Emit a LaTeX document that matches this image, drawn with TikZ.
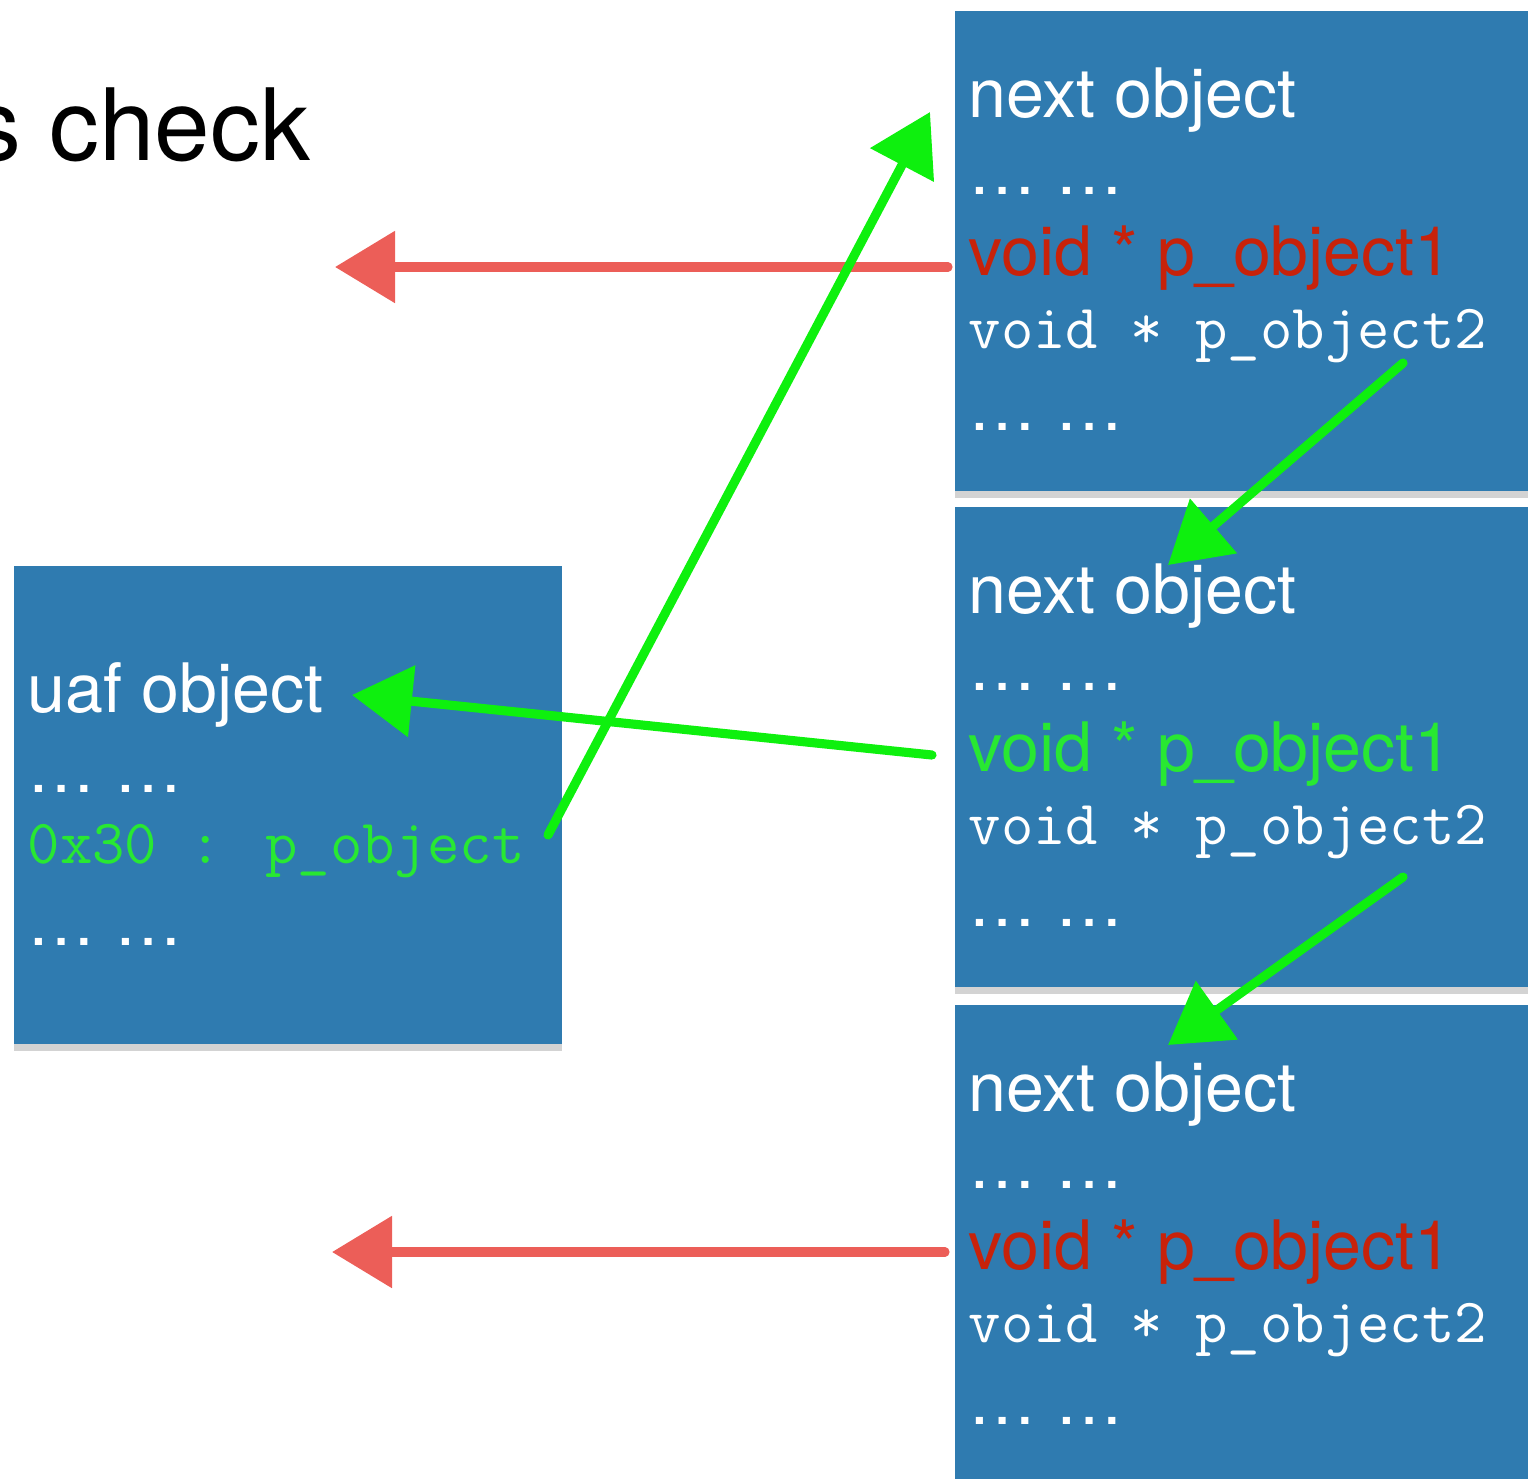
\documentclass[tikz,border=0pt]{standalone}
\usepackage{fontspec}
\setmainfont{TeX Gyre Heros}
\usetikzlibrary{arrows.meta,positioning,shadows}

\definecolor{boxblue}{RGB}{47,123,176}
\definecolor{ptrred}{RGB}{200,34,10}
\definecolor{ptrgreen}{RGB}{40,232,50}
\definecolor{arrowred}{RGB}{236,94,88}
\definecolor{arrowgreen}{RGB}{14,240,14}

\tikzset{
  objbox/.style={fill=boxblue, anchor=north west, inner sep=0pt,
    minimum width=6cm, minimum height=4.8cm,
    drop shadow={shadow xshift=0pt, shadow yshift=-2pt, opacity=0.35}},
  headline/.style={anchor=base west, inner sep=0pt, text=white,
    font=\fontsize{19.4}{23}\selectfont},
  codeline/.style={anchor=base west, inner sep=0pt, text=white,
    font=\ttfamily\fontsize{17.9}{21}\selectfont},
  ptrarrow/.style={line width=2.6pt, line cap=round,
    -{Triangle[length=0.6cm, width=0.7cm]}},
}

\begin{document}
\begin{tikzpicture}[x=1cm, y=1cm]
  \useasboundingbox (0,0) rectangle (15.28,-14.78);

  % title, cut at the left edge
  \node[anchor=base west, inner sep=0pt, font=\fontsize{28.4}{34}\selectfont] (title) at (-0.29,-1.60) {s check};

  % the three next objects
  \foreach \nm/\ytop/\pcol in {Top/0.10/ptrred, Mid/5.06/ptrgreen, Bot/10.04/ptrred} {
    \node[objbox] (box\nm) at (9.54,-\ytop) {};
    \node[headline] (next\nm) at ([xshift=0.14cm, yshift=-1.07cm]box\nm.north west) {next object};
    \node[headline] (dotsA\nm) at ([xshift=0.14cm, yshift=-1.84cm]box\nm.north west) {… …};
    \node[headline, text=\pcol] (pone\nm) at ([xshift=0.14cm, yshift=-2.65cm]box\nm.north west) {void * p\_object1};
    \node[codeline] (ptwo\nm) at ([xshift=0.14cm, yshift=-3.38cm]box\nm.north west) {void * p\_object2};
    \node[headline] (dotsB\nm) at ([xshift=0.14cm, yshift=-4.20cm]box\nm.north west) {… …};
  }

  % the freed object
  \node[objbox, minimum width=5.48cm, minimum height=4.78cm] (boxUaf) at (0.13,-5.65) {};
  \node[headline] (uafName) at ([xshift=0.14cm, yshift=-1.47cm]boxUaf.north west) {uaf object};
  \node[headline] (uafDotsA) at ([xshift=0.14cm, yshift=-2.27cm]boxUaf.north west) {… …};
  \node[codeline, text=ptrgreen] (uafPtr) at ([xshift=0.14cm, yshift=-2.98cm]boxUaf.north west) {0x30 : p\_object};
  \node[headline] (uafDotsB) at ([xshift=0.14cm, yshift=-3.80cm]boxUaf.north west) {… …};

  % arrow ends
  \coordinate (redTopFrom) at (9.48,-2.67);
  \coordinate (redTopTo) at (3.35,-2.67);
  \coordinate (redBotFrom) at (9.45,-12.52);
  \coordinate (redBotTo) at (3.32,-12.52);
  \coordinate (uafFrom) at (5.48,-8.35);
  \coordinate (topIn) at (9.30,-1.12);
  \coordinate (midFrom) at (9.32,-7.55);
  \coordinate (uafIn) at (3.52,-6.95);
  \coordinate (topOut) at (14.03,-3.63);
  \coordinate (midIn) at (11.68,-5.65);
  \coordinate (midOut) at (14.03,-8.77);
  \coordinate (botIn) at (11.68,-10.45);

  % pointers
  \draw[ptrarrow, arrowred] (redTopFrom) -- (redTopTo);
  \draw[ptrarrow, arrowred] (redBotFrom) -- (redBotTo);
  \draw[ptrarrow, arrowgreen] (uafFrom) -- (topIn);
  \draw[ptrarrow, arrowgreen] (midFrom) -- (uafIn);
  \draw[ptrarrow, arrowgreen] (topOut) -- (midIn);
  \draw[ptrarrow, arrowgreen] (midOut) -- (botIn);
\end{tikzpicture}
\end{document}
